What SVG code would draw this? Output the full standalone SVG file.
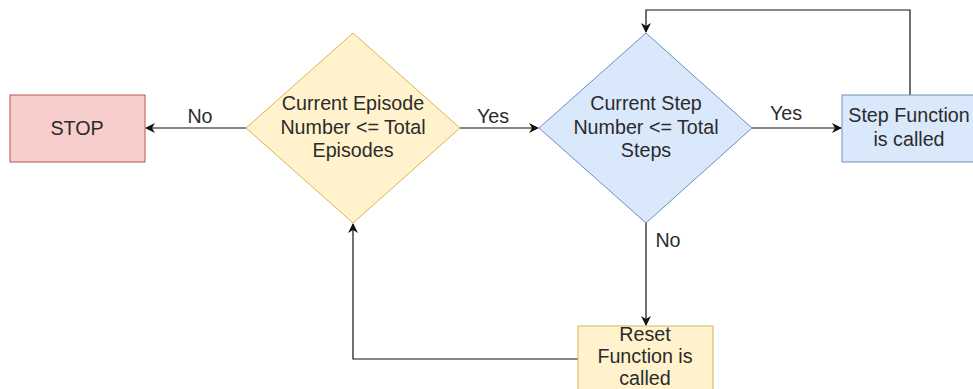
<svg xmlns="http://www.w3.org/2000/svg" width="973" height="389" viewBox="0 0 973 389">
<style>
text{font-family:"Liberation Sans",Arial,sans-serif;font-size:19.7px;fill:#2b2b2b;text-anchor:middle}
.ln{fill:none;stroke:#111;stroke-width:1.2}
</style>
<defs>
<marker id="ah" viewBox="0 0 10 10" refX="9" refY="5" markerWidth="10" markerHeight="10" markerUnits="userSpaceOnUse" orient="auto">
<path d="M0,0 L10,5 L0,10 L3,5 Z" fill="#111"/>
</marker>
</defs>
<rect width="973" height="389" fill="#fff"/>
<g id="connectors">
<path class="ln" d="M246,128 H146" marker-end="url(#ah)"/>
<path class="ln" d="M460,128 H538" marker-end="url(#ah)"/>
<path class="ln" d="M752,128 H841" marker-end="url(#ah)"/>
<path class="ln" d="M910,95 V10 H646 V32" marker-end="url(#ah)"/>
<path class="ln" d="M646,223 V325" marker-end="url(#ah)"/>
<path class="ln" d="M578,359 H353 V224" marker-end="url(#ah)"/>
<text x="200" y="123">No</text>
<text x="493" y="123">Yes</text>
<text x="786" y="120">Yes</text>
<text x="668" y="247">No</text>
</g>
<g id="stop">
<rect x="10" y="95" width="135" height="67" fill="#f8cecc" stroke="#b85450"/>
<text x="77" y="135">STOP</text>
</g>
<g id="episode">
<path d="M353,33 L460,128 L353,223 L246,128 Z" fill="#fff2cc" stroke="#d6b656"/>
<text x="353" y="110">Current Episode</text>
<text x="353" y="134">Number &lt;= Total</text>
<text x="353" y="157">Episodes</text>
</g>
<g id="step">
<path d="M646,33 L752,128 L646,223 L539,128 Z" fill="#dae8fc" stroke="#6c8ebf"/>
<text x="646" y="110">Current Step</text>
<text x="646" y="134">Number &lt;= Total</text>
<text x="646" y="157">Steps</text>
</g>
<g id="stepfn">
<rect x="842" y="95" width="135" height="67" fill="#dae8fc" stroke="#6c8ebf"/>
<text x="909" y="122">Step Function</text>
<text x="909" y="146">is called</text>
</g>
<g id="reset">
<rect x="578" y="326" width="135" height="67" fill="#fff2cc" stroke="#d6b656"/>
<text x="645" y="341">Reset</text>
<text x="645" y="363">Function is</text>
<text x="645" y="385">called</text>
</g>
</svg>
